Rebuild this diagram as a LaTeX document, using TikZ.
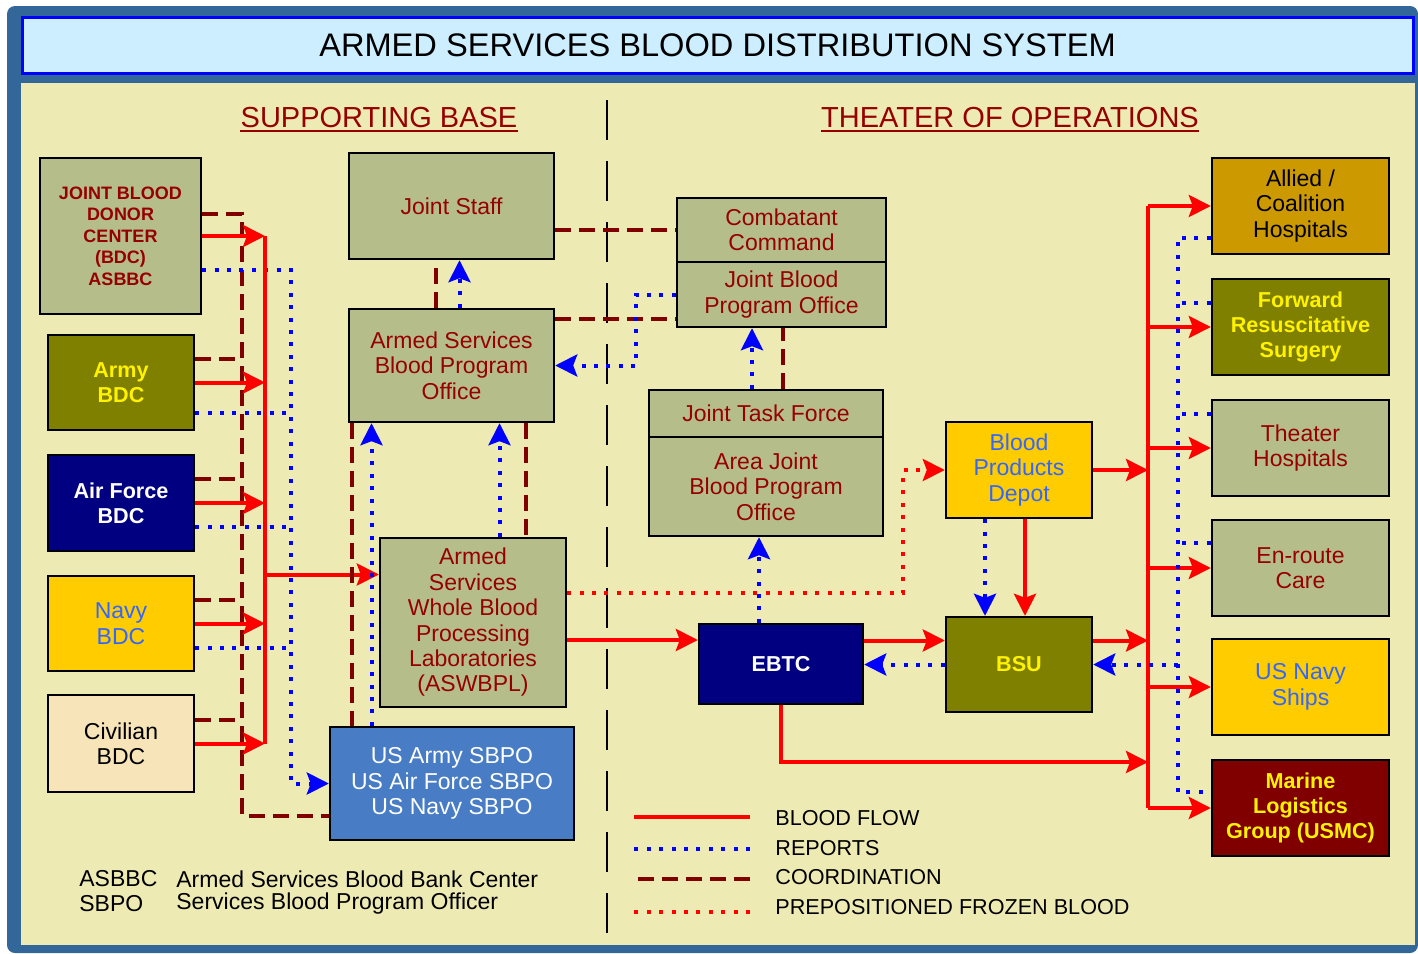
\documentclass[tikz,border=0pt]{standalone}
\usepackage{fontspec}
\setmainfont{Liberation Sans}
\usetikzlibrary{arrows.meta}
\definecolor{frameblue}{RGB}{51,102,153}
\definecolor{cream}{RGB}{238,234,180}
\definecolor{titlefill}{RGB}{204,238,255}
\definecolor{sage}{RGB}{181,190,139}
\definecolor{olivebox}{RGB}{128,128,0}
\definecolor{navybox}{RGB}{0,0,128}
\definecolor{goldbox}{RGB}{255,204,0}
\definecolor{wheatbox}{RGB}{247,228,185}
\definecolor{sbpoblue}{RGB}{72,124,196}
\definecolor{alliedbox}{RGB}{204,153,0}
\definecolor{marinebox}{RGB}{128,0,0}
\definecolor{txtred}{RGB}{150,0,0}
\definecolor{txtblue}{RGB}{51,102,255}
\definecolor{coordred}{RGB}{128,0,0}
\newcommand{\unitbox}[7]{\node[box,#1,minimum width={(#4-#2)*0.5pt},minimum height={(#5-#3)*0.5pt}] (#6) at ({(#2+#4)/2},{(#3+#5)/2}) {#7};}

\begin{document}
\begin{tikzpicture}[
      x=0.5pt, y=-0.5pt,
      box/.style={draw=black, line width=1.2pt, inner sep=0pt, align=center, text=txtred, font=\fontsize{11.5}{12.7}\selectfont},
      heavy/.style={font=\bfseries\fontsize{10.8}{12.7}\selectfont},
      tipped/.style={-{Stealth[length=11pt,width=11pt,inset=2pt]}},
      flowline/.style={draw=red, line width=2pt},
      reportline/.style={draw=blue, line width=2pt, dash pattern=on 2pt off 4.2pt},
      coordline/.style={draw=coordred, line width=2pt, dash pattern=on 8pt off 4pt},
      frozenline/.style={draw=red, line width=2pt, dash pattern=on 2pt off 4.2pt},
      heading/.style={text=txtred, inner sep=0pt, anchor=base, font=\fontsize{14.5}{16}\selectfont},
      legend/.style={anchor=west, inner sep=0pt, font=\fontsize{10.8}{12}\selectfont},
      note/.style={anchor=west, inner sep=0pt, font=\fontsize{11.5}{12.7}\selectfont}
      ]
      \useasboundingbox (0,0) rectangle (1418,953);
      \fill[frameblue, rounded corners=4pt] (7,6) rectangle (1418,953);
      \fill[cream] (21,83) rectangle (1415,945);
      \node[draw=blue, line width=1.5pt, fill=titlefill, minimum width=695.5pt, minimum height=28pt, inner sep=0pt, text=black, font=\fontsize{16.3}{18}\selectfont] (title) at (717.5,45) {ARMED SERVICES BLOOD DISTRIBUTION SYSTEM};
      \node[heading] (support) at (379,127) {SUPPORTING BASE};
      \node[heading] (theaterops) at (1010,127) {THEATER OF OPERATIONS};
      \draw[txtred, line width=1pt] ([yshift=-2pt]support.base west) -- ([yshift=-2pt]support.base east);
      \draw[txtred, line width=1pt] ([yshift=-2pt]theaterops.base west) -- ([yshift=-2pt]theaterops.base east);
      \draw[line width=1pt, dash pattern=on 20pt off 10.5pt] (607,100) -- (607,940);

      \unitbox{fill=sage, font=\bfseries\fontsize{9}{10.75}\selectfont}{40}{158}{201}{314}{jbdc}{JOINT BLOOD\\DONOR\\CENTER\\(BDC)\\ASBBC}
      \unitbox{fill=olivebox, text=yellow, heavy}{48}{335}{194}{430}{army}{Army\\BDC}
      \unitbox{fill=navybox, text=white, heavy}{48}{455}{194}{551}{airforce}{Air Force\\BDC}
      \unitbox{fill=goldbox, text=txtblue}{48}{576}{194}{671}{navy}{Navy\\BDC}
      \unitbox{fill=wheatbox, text=black}{48}{695}{194}{792}{civilian}{Civilian\\BDC}
      \unitbox{fill=sage}{349}{153}{554}{259}{jstaff}{Joint Staff}
      \unitbox{fill=sage}{349}{309}{554}{422}{asbpo}{Armed Services\\Blood Program\\Office}
      \unitbox{fill=sage}{380}{538}{566}{707}{aswbpl}{Armed\\Services\\Whole Blood\\Processing\\Laboratories\\(ASWBPL)}
      \unitbox{fill=sbpoblue, text=white}{330}{727}{574}{840}{sbpo}{US Army SBPO\\US Air Force SBPO\\US Navy SBPO}
      \unitbox{fill=sage}{677}{198}{886}{262}{ccmd}{Combatant\\Command}
      \unitbox{fill=sage}{677}{262}{886}{327}{jbpo}{Joint Blood\\Program Office}
      \unitbox{fill=sage}{649}{390}{883}{437}{jtf}{Joint Task Force}
      \unitbox{fill=sage}{649}{437}{883}{536}{ajbpo}{Area Joint\\Blood Program\\Office}
      \unitbox{fill=goldbox, text=txtblue}{946}{422}{1092}{518}{bpd}{Blood\\Products\\Depot}
      \unitbox{fill=navybox, text=white, heavy}{699}{624}{863}{704}{ebtc}{EBTC}
      \unitbox{fill=olivebox, text=yellow, heavy}{946}{617}{1092}{712}{bsu}{BSU}
      \unitbox{fill=alliedbox, text=black}{1212}{158}{1389}{254}{allied}{Allied /\\Coalition\\Hospitals}
      \unitbox{fill=olivebox, text=yellow, heavy}{1212}{279}{1389}{375}{frs}{Forward\\Resuscitative\\Surgery}
      \unitbox{fill=sage}{1212}{400}{1389}{496}{hosp}{Theater\\Hospitals}
      \unitbox{fill=sage}{1212}{520}{1389}{616}{enroute}{En-route\\Care}
      \unitbox{fill=goldbox, text=txtblue}{1212}{639}{1389}{735}{ships}{US Navy\\Ships}
      \unitbox{fill=marinebox, text=yellow, heavy}{1212}{760}{1389}{856}{marine}{Marine\\Logistics\\Group (USMC)}

      \coordinate (rbus) at (265,0);
      \coordinate (cbus) at (242,0);
      \coordinate (dbus) at (291,0);
      \coordinate (jlink) at (636,0);
      \coordinate (fbend) at (903,0);
      \coordinate (hbus) at (1148,0);
      \coordinate (hrep) at (1178,0);
      \coordinate (ebend) at (1148,762);

      \foreach \b in {army,airforce,navy,civilian}
        \draw[coordline] ([yshift=12pt]\b.east) -- ([yshift=12pt]\b.east -| cbus);
      \draw[coordline] ([yshift=11pt]jbdc.east) -| ([yshift=-16pt]sbpo.west -| cbus) -- ([yshift=-16pt]sbpo.west);
      \draw[reportline, tipped] ([yshift=-17pt]jbdc.east) -| (sbpo.west -| dbus) -- (sbpo.west);
      \foreach \b/\s in {army/-15pt,airforce/-12pt,navy/-12pt}
        \draw[reportline] ([yshift=\s]\b.east) -- ([yshift=\s]\b.east -| dbus);
      \draw[flowline] (jbdc.east -| rbus) -- (civilian.east -| rbus);
      \foreach \b in {jbdc,army,airforce,navy,civilian}
        \draw[flowline, tipped] (\b.east) -- (\b.east -| rbus);
      \draw[flowline, tipped] ([yshift=24pt]aswbpl.west -| rbus) -- ([yshift=24pt]aswbpl.west);

      \draw[coordline] ([xshift=-8pt]asbpo.north) -- ([xshift=-8pt]jstaff.south);
      \draw[reportline, tipped] ([xshift=4pt]asbpo.north) -- ([xshift=4pt]jstaff.south);
      \draw[coordline] ([xshift=-50pt]asbpo.south) -- ([xshift=-50pt]asbpo.south |- sbpo.north);
      \draw[reportline, tipped] ([xshift=-40pt]asbpo.south |- sbpo.north) -- ([xshift=-40pt]asbpo.south);
      \draw[reportline, tipped] ([xshift=24pt]asbpo.south |- aswbpl.north) -- ([xshift=24pt]asbpo.south);
      \draw[coordline] ([xshift=37pt]asbpo.south) -- ([xshift=37pt]asbpo.south |- aswbpl.north);
      \draw[coordline] (ccmd.west -| jstaff.east) -- (ccmd.west);
      \draw[coordline] ([yshift=-12pt]jbpo.west -| asbpo.east) -- ([yshift=-12pt]jbpo.west);
      \draw[reportline, tipped] (jbpo.west) -| (asbpo.east -| jlink) -- (asbpo.east);
      \draw[reportline, tipped] ([xshift=-7pt]jtf.north) -- ([xshift=-7pt]jtf.north |- jbpo.south);
      \draw[coordline] ([xshift=8.5pt]jtf.north) -- ([xshift=8.5pt]jtf.north |- jbpo.south);
      \draw[reportline, tipped] ([xshift=-11pt]ebtc.north) -- ([xshift=-11pt]ebtc.north |- ajbpo.south);
      \draw[flowline, tipped] ([yshift=12pt]ebtc.west -| aswbpl.east) -- ([yshift=12pt]ebtc.west);
      \draw[frozenline, tipped] ([yshift=15pt]aswbpl.east) -| (bpd.west -| fbend) -- (bpd.west);
      \draw[flowline, tipped] ([yshift=12pt]bsu.west -| ebtc.east) -- ([yshift=12pt]bsu.west);
      \draw[reportline, tipped] (bsu.west) -- (bsu.west -| ebtc.east);
      \draw[reportline, tipped] ([xshift=-17pt]bpd.south) -- ([xshift=-17pt]bpd.south |- bsu.north);
      \draw[flowline, tipped] ([xshift=3pt]bpd.south) -- ([xshift=3pt]bpd.south |- bsu.north);
      \draw[flowline, tipped] (bpd.east) -- (bpd.east -| hbus);
      \draw[flowline, tipped] ([yshift=12pt]bsu.east) -- ([yshift=12pt]bsu.east -| hbus);
      \draw[flowline, tipped] (ebtc.south) |- (ebend);

      \draw[flowline] (allied.west -| hbus) -- (marine.west -| hbus);
      \foreach \h in {allied,frs,hosp,enroute,ships,marine}
        \draw[flowline, tipped] (\h.west -| hbus) -- (\h.west);
      \draw[reportline] ([yshift=-16pt]allied.west) -| ([yshift=8pt]marine.west -| hrep) -- ([yshift=8pt]marine.west);
      \foreach \h/\s in {frs/12pt,hosp/17pt,enroute/12.5pt}
        \draw[reportline] ([yshift=\s]\h.west) -- ([yshift=\s]\h.west -| hrep);
      \draw[reportline, tipped] (bsu.east -| hrep) -- (bsu.east);

      \node[legend] (lflow) at (775,818) {BLOOD FLOW};
      \node[legend] (lrep) at (775,848) {REPORTS};
      \node[legend] (lcoord) at (775,877) {COORDINATION};
      \node[legend] (lfroz) at (775,907) {PREPOSITIONED FROZEN BLOOD};
      \draw[flowline] ([xshift=-12.5pt,yshift=0.5pt]lflow.west) -- ++(-116,0);
      \draw[reportline] ([xshift=-12.5pt,yshift=-0.5pt]lrep.west) -- ++(-116,0);
      \draw[coordline] ([xshift=-12.5pt,yshift=-1pt]lcoord.west) -- ++(-116,0);
      \draw[frozenline] ([xshift=-12.5pt,yshift=-2.5pt]lfroz.west) -- ++(-116,0);

      \node[note] (kasbbc) at (79,879) {ASBBC};
      \node[note] (kasbbcdef) at (176,879) {Armed Services Blood Bank Center};
      \node[note] (ksbpo) at (79,904) {SBPO};
      \node[note] (ksbpodef) at (176,904) {Services Blood Program Officer};
    \end{tikzpicture}
\end{document}
